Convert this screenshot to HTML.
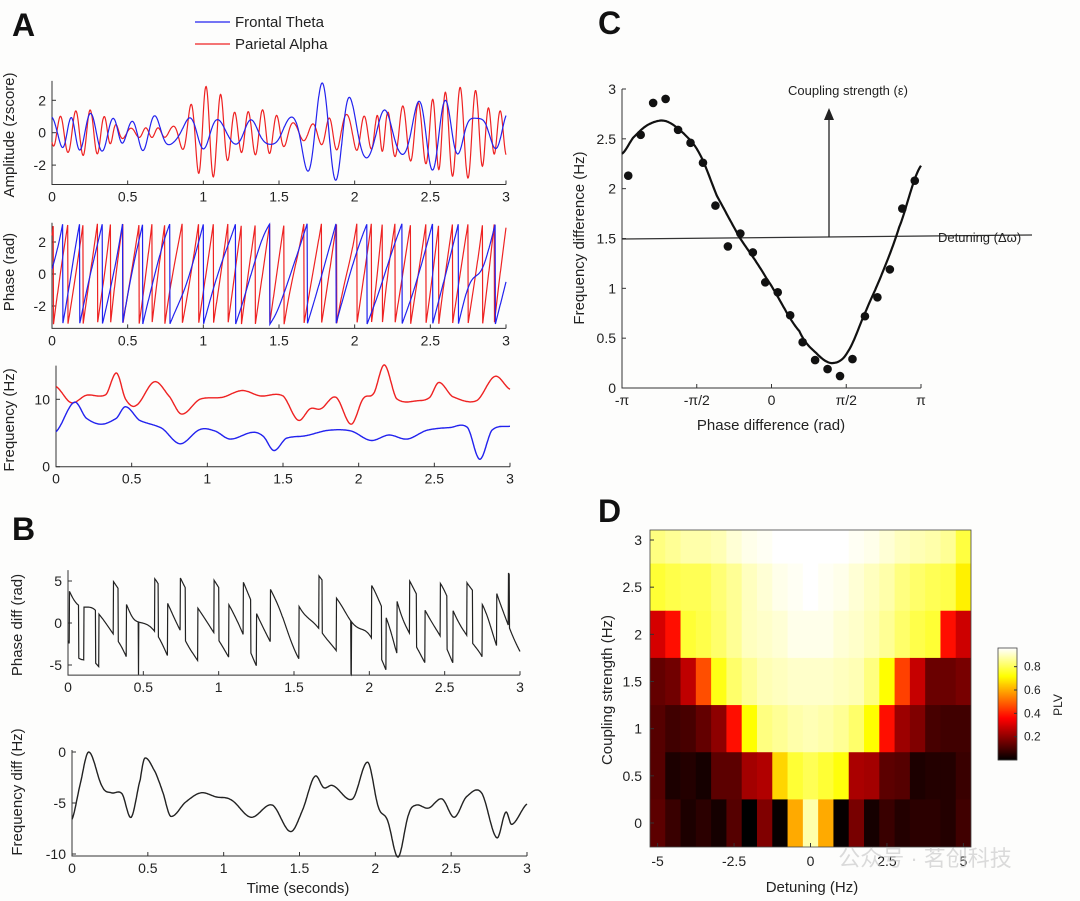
<!DOCTYPE html>
<html><head><meta charset="utf-8"><style>
html,body{margin:0;padding:0;background:#fff;}
svg{display:block;font-family:"Liberation Sans",Arial,sans-serif;}
</style></head><body>
<svg id="fig" width="1080" height="901" viewBox="0 0 1080 901" xmlns="http://www.w3.org/2000/svg">
<rect x="0" y="0" width="1080" height="901" fill="#fdfdfc"/>
<g id="root"></g>
</svg>
<script>
// ---------- DATA ----------
const thetaTimes=[0,0.12,0.2,0.3,0.4,0.46,0.55,0.7,0.82,0.95,1.05,1.15,1.3,1.37,1.44,1.52,1.65,1.8,1.95,2.08,2.2,2.32,2.45,2.6,2.72,2.8,2.88,3.0];
const thetaFreq=[5.2,9.55,7.2,6.3,7.2,8.9,6.9,5.7,3.4,5.5,5.3,4.1,5.1,4.5,2.4,4.2,4.6,5.4,5.3,3.9,4.7,4.1,5.4,5.8,5.8,1.1,5.4,6.0];
const alphaTimes=[0,0.1,0.2,0.33,0.4,0.46,0.53,0.65,0.75,0.83,0.95,1.1,1.23,1.35,1.5,1.6,1.68,1.75,1.85,1.95,2.03,2.1,2.17,2.25,2.4,2.47,2.53,2.62,2.78,2.9,3.0];
const alphaFreq=[11.9,9.5,10.6,10.7,13.9,10,9.1,12.6,10.4,7.8,10,10.3,11.3,10.5,10.5,6.9,8.6,8.6,10.3,6.3,10.1,10.9,15.1,10.1,9.8,10.3,12.5,10.4,9.8,13.4,11.5];
const envTimes=[0,0.1,0.2,0.3,0.4,0.5,0.6,0.7,0.8,0.9,1.0,1.1,1.2,1.3,1.4,1.5,1.6,1.7,1.8,1.9,2.0,2.1,2.2,2.3,2.4,2.5,2.6,2.7,2.8,2.9,3.0];
const thetaEnv=[1,0.9,1.1,1.2,0.9,0.6,1.1,1.0,0.7,0.9,1.0,0.8,0.7,0.8,0.7,0.8,1.1,2.5,3.1,2.8,1.9,1.5,1.4,1.3,1.8,2.3,2.0,1.2,0.9,0.9,1.2];
const alphaEnv=[0.8,1.2,1.4,1.3,0.6,0.3,0.3,0.3,0.4,1.5,2.8,2.5,1.3,1.3,1.4,1.0,0.6,0.5,0.8,1.1,1.1,1.0,1.2,1.6,1.8,2.0,2.5,2.8,2.6,1.4,1.4];
const fdTimes=[0,0.05,0.11,0.2,0.26,0.33,0.39,0.45,0.48,0.55,0.6,0.65,0.75,0.85,0.95,1.05,1.18,1.32,1.44,1.52,1.6,1.66,1.72,1.85,1.95,2.02,2.08,2.15,2.22,2.27,2.35,2.44,2.52,2.6,2.7,2.8,2.86,2.9,3.0];
const fdValues=[-6.6,-3.4,0,-3.4,-4,-4.1,-6.4,-2.7,-0.6,-2,-4,-6.3,-4.9,-4,-4.4,-4.7,-6.4,-5.2,-7.8,-5.7,-2.4,-3.5,-3.3,-4.6,-1.0,-5.4,-6.7,-10.3,-6.1,-5.2,-5.5,-4.6,-6.4,-4.4,-4,-8.4,-5.9,-7.1,-5.1];
const timeTicks=[0,0.5,1,1.5,2,2.5,3];
const dotPhase=[];
const dotValues=[2.13,2.54,2.86,2.90,2.59,2.46,2.26,1.83,1.42,1.55,1.36,1.06,0.96,0.73,0.46,0.28,0.19,0.12,0.29,0.72,0.91,1.19,1.80,2.08];
for(let k=0;k<dotValues.length;k++) dotPhase.push(-Math.PI+(k+0.5)*Math.PI/12);
const fitPhase=[-3.14,-2.91,-2.6,-2.24,-1.86,-1.51,-1.15,-0.67,-0.105,0.586,0.94,1.277,1.6,1.99,2.325,2.68,3.14];
const fitValues=[2.35,2.51,2.64,2.68,2.56,2.35,1.93,1.51,1.10,0.57,0.35,0.25,0.36,0.78,1.15,1.61,2.23];
const detuningCats=[-5,-4.5,-4,-3.5,-3,-2.5,-2,-1.5,-1,-0.5,0,0.5,1,1.5,2,2.5,3,3.5,4,4.5,5];
const couplingCats=[3,2.5,2,1.5,1,0.5,0];
const plvRow3=[0.84,0.86,0.88,0.88,0.89,0.92,0.94,0.95,0.96,0.96,0.96,0.96,0.96,0.95,0.94,0.92,0.90,0.89,0.88,0.86,0.78];
const plvRow25=[0.77,0.79,0.80,0.80,0.83,0.86,0.90,0.92,0.94,0.95,0.96,0.95,0.94,0.92,0.90,0.88,0.84,0.82,0.80,0.79,0.70];
const plvRow2=[0.30,0.38,0.77,0.79,0.82,0.86,0.90,0.91,0.92,0.94,0.94,0.94,0.92,0.91,0.89,0.86,0.82,0.79,0.77,0.38,0.29];
const plvRow15=[0.14,0.16,0.27,0.47,0.74,0.82,0.86,0.89,0.90,0.91,0.91,0.91,0.90,0.89,0.84,0.72,0.45,0.28,0.15,0.15,0.17];
const plvRow1=[0.12,0.09,0.10,0.14,0.20,0.38,0.72,0.84,0.86,0.88,0.89,0.88,0.86,0.82,0.72,0.38,0.22,0.18,0.10,0.09,0.09];
const plvRow05=[0.12,0.04,0.05,0.03,0.13,0.13,0.23,0.25,0.66,0.77,0.80,0.77,0.73,0.24,0.23,0.13,0.12,0.04,0.05,0.05,0.08];
const plvRow0=[0.13,0.08,0.04,0.06,0.03,0.12,0.0,0.18,0.01,0.60,0.88,0.60,0.01,0.17,0.03,0.08,0.05,0.06,0.06,0.05,0.09];
const plvRows=[plvRow3,plvRow25,plvRow2,plvRow15,plvRow1,plvRow05,plvRow0];
const plvTicks=[0.2,0.4,0.6,0.8];

// ---------- HELPERS ----------
const NS='http://www.w3.org/2000/svg';
const root=document.getElementById('root');
function mk(tag,attrs,parent){const e=document.createElementNS(NS,tag);for(const k in attrs)e.setAttribute(k,attrs[k]);(parent||root).appendChild(e);return e;}
function txt(s,x,y,size,anchor,parent,extra){const e=mk('text',Object.assign({x:x,y:y,'font-size':size,'text-anchor':anchor||'middle',fill:'#222'},extra||{}),parent);e.textContent=s;return e;}
function lin(d0,d1,r0,r1){return v=>r0+(v-d0)*(r1-r0)/(d1-d0);}
function cr(ts,vs,t){
  let i=0;while(i<ts.length-2&&t>ts[i+1])i++;
  const t0=ts[i],t1=ts[i+1];const u=Math.max(0,Math.min(1,(t-t0)/(t1-t0)));
  const p0=vs[Math.max(0,i-1)],p1=vs[i],p2=vs[i+1],p3=vs[Math.min(vs.length-1,i+2)];
  return 0.5*((2*p1)+(-p0+p2)*u+(2*p0-5*p1+4*p2-p3)*u*u+(-p0+3*p1-3*p2+p3)*u*u*u);
}
function pathFrom(pts){return pts.map((p,i)=>(i?'L':'M')+p[0].toFixed(1)+','+p[1].toFixed(1)).join('');}
function wrap(a){return Math.atan2(Math.sin(a),Math.cos(a));}
function axes(g,x0,x1,y0,y1,xticks,xs,yticks,ys,xlabels,ylabels){
  mk('path',{d:`M${x0},${y0}L${x0},${y1}L${x1},${y1}`,fill:'none',stroke:'#333','stroke-width':1},g);
  xticks.forEach((t,i)=>{const x=xs(t);mk('line',{x1:x,x2:x,y1:y1,y2:y1-4,stroke:'#333'},g);
    const l=txt(xlabels?xlabels[i]:String(t),x,y1+17,14,'middle',g);
    
    });
  yticks.forEach((t,i)=>{const y=ys(t);mk('line',{x1:x0,x2:x0+4,y1:y,y2:y,stroke:'#333'},g);
    const l=txt(ylabels?ylabels[i]:String(t),x0-6,y+5,14,'end',g);
    
    });
}
function group(name){const g=mk('g',{});return g;}
function rotLabel(s,x,y,size,g,name){const l=txt(s,x,y,size,'middle',g,{transform:`rotate(-90 ${x} ${y})`});return l;}

// ---------- SIGNALS ----------
const dt=0.002,N=1500;
let thP=0.3,alP=2.4;const sT=[],sA=[],pT=[],pA=[];
for(let k=0;k<=N;k++){const t=k*dt;
  sT.push([t,cr(envTimes,thetaEnv,t)*Math.cos(thP)]);sA.push([t,cr(envTimes,alphaEnv,t)*Math.cos(alP)]);
  pT.push([t,wrap(thP)]);pA.push([t,wrap(alP)]);
  thP+=2*Math.PI*cr(thetaTimes,thetaFreq,t)*dt;alP+=2*Math.PI*cr(alphaTimes,alphaFreq,t)*dt;}

// ---------- PANEL A ----------
const gA=group('panel-a');
const la=txt('A',12,36,32,'start',gA,{'font-weight':'bold',fill:'#111'});
const leg=group('legend');
mk('line',{x1:195,x2:230,y1:22,y2:22,stroke:'#2222ee','stroke-width':1.3},leg);
mk('line',{x1:195,x2:230,y1:44,y2:44,stroke:'#ee2222','stroke-width':1.3},leg);
const l1=txt('Frontal Theta',235,27,15,'start',leg);
const l2=txt('Parietal Alpha',235,49,15,'start',leg);
{const g=group('amplitude-plot');const xs=lin(0,3,52,506),ys=lin(0,2,132.7,100.3);
 axes(g,52,506,ys(3.2),ys(-3.2),timeTicks,xs,[-2,0,2],ys);
 mk('path',{d:pathFrom(sA.map(p=>[xs(p[0]),ys(p[1])])),fill:'none',stroke:'#ee2222','stroke-width':1.2,},g);
 mk('path',{d:pathFrom(sT.map(p=>[xs(p[0]),ys(p[1])])),fill:'none',stroke:'#2222ee','stroke-width':1.2,},g);
 rotLabel('Amplitude (zscore)',14,135,15,g,'amplitude-y-title');}
{const g=group('phase-plot');const xs=lin(0,3,52,506),ys=lin(0,2,274,242);
 axes(g,52,506,ys(3.2),ys(-3.4),timeTicks,xs,[-2,0,2],ys);
 mk('path',{d:pathFrom(pA.map(p=>[xs(p[0]),ys(p[1])])),fill:'none',stroke:'#ee2222','stroke-width':1.2,},g);
 mk('path',{d:pathFrom(pT.map(p=>[xs(p[0]),ys(p[1])])),fill:'none',stroke:'#2222ee','stroke-width':1.2,},g);
 rotLabel('Phase (rad)',14,272,15,g,'phase-y-title');}
{const g=group('frequency-plot');const xs=lin(0,3,56,510),ys=lin(0,10,466.7,399.3);
 axes(g,56,510,ys(15),ys(0),timeTicks,xs,[0,10],ys);
 const ptsA=[],ptsT=[];for(let k=0;k<=600;k++){const t=k*0.005;ptsA.push([xs(t),ys(cr(alphaTimes,alphaFreq,t))]);ptsT.push([xs(t),ys(cr(thetaTimes,thetaFreq,t))]);}
 mk('path',{d:pathFrom(ptsA),fill:'none',stroke:'#ee2222','stroke-width':1.4,},g);
 mk('path',{d:pathFrom(ptsT),fill:'none',stroke:'#2222ee','stroke-width':1.4,},g);
 rotLabel('Frequency (Hz)',14,420,15,g,'frequency-y-title');}

// ---------- PANEL B ----------
const gB=group('panel-b');
const lb=txt('B',12,540,32,'start',gB,{'font-weight':'bold',fill:'#111'});
{const g=group('phase-diff-plot');const xs=lin(0,3,68,520),ys=lin(0,5,623,581);
 axes(g,68,520,ys(6.3),ys(-6.2),timeTicks,xs,[-5,0,5],ys);
 const pts=pT.map((p,i)=>[xs(p[0]),ys(p[1]-pA[i][1])]);
 mk('path',{d:pathFrom(pts),fill:'none',stroke:'#222','stroke-width':1.2,},g);
 rotLabel('Phase diff (rad)',22,625,15,g,'phase-diff-y-title');}
{const g=group('frequency-diff-plot');const xs=lin(0,3,72,527),ys=lin(0,-10,752,854);
 axes(g,72,527,ys(0.2),ys(-10.2),timeTicks,xs,[-10,-5,0],ys);
 const pts=[];for(let k=0;k<=600;k++){const t=k*0.005;pts.push([xs(t),ys(cr(fdTimes,fdValues,t))]);}
 mk('path',{d:pathFrom(pts),fill:'none',stroke:'#222','stroke-width':1.4,},g);
 rotLabel('Frequency diff (Hz)',22,792,15,g,'frequency-diff-y-title');
 const xt=txt('Time (seconds)',298,893,15,'middle',g);}

// ---------- PANEL C ----------
const gC=group('panel-c');
const lc=txt('C',598,34,32,'start',gC,{'font-weight':'bold',fill:'#111'});
{const g=gC;const xs=lin(-Math.PI,Math.PI,622,921),ys=lin(0,3,388,89);
 axes(g,622,921,ys(3),ys(0),[-Math.PI,-Math.PI/2,0,Math.PI/2,Math.PI],xs,[0,0.5,1,1.5,2,2.5,3],ys,['-π','-π/2','0','π/2','π']);
 mk('line',{x1:622,y1:239,x2:1032,y2:235,stroke:'#333','stroke-width':1.2,},g);
 mk('line',{x1:829,y1:237,x2:829,y2:114,stroke:'#222','stroke-width':1.3,},g);
 mk('path',{d:'M824,120L829,108L834,120Z',fill:'#222'},g);
 const c1=txt('Coupling strength (ε)',848,95,13,'middle',g);
 const c2=txt('Detuning (Δω)',938,242,13,'start',g);
 const pts=[];for(let k=0;k<=300;k++){const x=-Math.PI+k*2*Math.PI/300;pts.push([xs(x),ys(cr(fitPhase,fitValues,x))]);}
 mk('path',{d:pathFrom(pts),fill:'none',stroke:'#111','stroke-width':2.2,},g);
 dotValues.forEach((v,i)=>{const c=mk('circle',{cx:xs(dotPhase[i]),cy:ys(v),r:4.3,fill:'#111'},g);
   
   });
 rotLabel('Frequency difference (Hz)',584,238,15,g,'c-y-title');
 const xt=txt('Phase difference (rad)',771,430,15,'middle',g);}

// ---------- PANEL D ----------
const gD=group('panel-d');
const ld=txt('D',598,522,32,'start',gD,{'font-weight':'bold',fill:'#111'});
const cmin=0,cmax=0.96;
function hot(v){const t=Math.max(0,Math.min(1,(v-cmin)/(cmax-cmin)));
  const r=Math.min(1,t/0.375),g=Math.max(0,Math.min(1,(t-0.375)/0.375)),b=Math.max(0,Math.min(1,(t-0.75)/0.25));
  return `rgb(${Math.round(r*255)},${Math.round(g*255)},${Math.round(b*255)})`;}
{const g=gD;const xs=lin(-5,5,657.6,963.4),ys=lin(0,3,823,540);const cw=15.29,rh=47.2;
 const clip=mk('clipPath',{id:'dclip'},g);mk('rect',{x:650,y:530,width:321,height:317},clip);
 const hg=mk('g',{'clip-path':'url(#dclip)'},g);
 plvRows.forEach((row,ri)=>{row.forEach((v,ci)=>{
   const r=mk('rect',{x:xs(detuningCats[ci])-cw/2,y:ys(couplingCats[ri])-rh/2,width:cw+0.4,height:rh+0.4,fill:hot(v)},hg);
   
   });});
 mk('rect',{x:650,y:530,width:321,height:317,fill:'none',stroke:'#444','stroke-width':0.8},g);
 [-5,-2.5,0,2.5,5].forEach(t=>{const x=xs(t);mk('line',{x1:x,x2:x,y1:847,y2:843,stroke:'#333'},g);
   const l=txt(String(t),x,866,14,'middle',g);});
 [0,0.5,1,1.5,2,2.5,3].forEach(t=>{const y=ys(t);mk('line',{x1:650,x2:654,y1:y,y2:y,stroke:'#333'},g);
   const l=txt(String(t),642,y+5,14,'end',g);});
 rotLabel('Coupling strength (Hz)',612,690,15,g,'d-y-title');
 const xt=txt('Detuning (Hz)',812,892,15,'middle',g);
 const cb=group('colorbar');const cy=lin(cmin,cmax,760,648);
 for(let k=0;k<112;k++){const v=cmin+(k+0.5)*(cmax-cmin)/112;mk('rect',{x:998,y:760-k-1,width:19,height:1.3,fill:hot(v)},cb);}
 mk('rect',{x:998,y:648,width:19,height:112,fill:'none',stroke:'#444','stroke-width':0.8},cb);
 plvTicks.forEach(t=>{const y=cy(t);mk('line',{x1:1017,x2:1014,y1:y,y2:y,stroke:'#333'},cb);
   const l=txt(String(t),1024,y+4,12,'start',cb);});
 rotLabel('PLV',1062,705,12,cb,'colorbar-title');}
const wm=txt('公众号 · 茗创科技',925,866,22,'middle',root,{fill:'#ccc','font-family':'"Liberation Sans","Noto Sans CJK SC",sans-serif',opacity:0.7});

</script>
</body></html>
